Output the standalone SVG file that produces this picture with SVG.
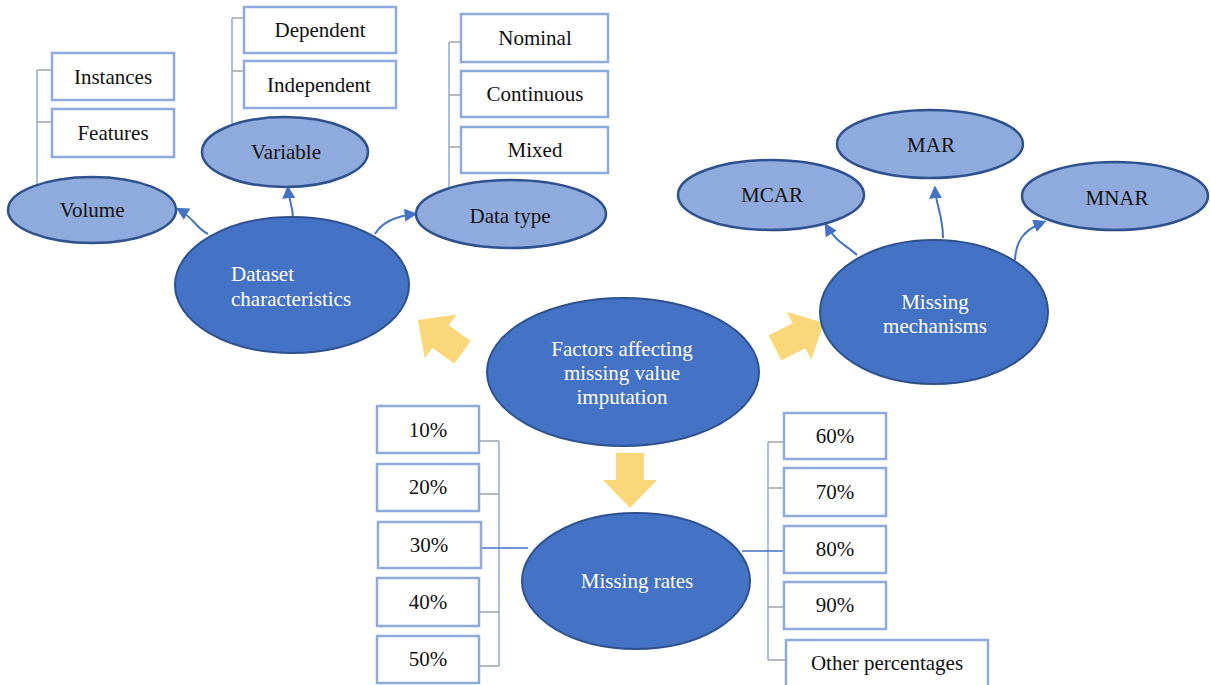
<svg xmlns="http://www.w3.org/2000/svg" width="1210" height="685" viewBox="0 0 1210 685">
<style>
.dark{fill:#4472C4;stroke:#2F528F;stroke-width:2}
.light{fill:#8FAADC;stroke:#2F528F;stroke-width:2.5}
.box{fill:#fff;stroke:#8FAADC;stroke-width:2.5}
text{font-family:"Liberation Serif","Times New Roman",serif;font-size:21px;text-anchor:middle}
.w{fill:#fff}
.k{fill:#111}
.br{fill:none;stroke:#8FAADC;stroke-width:1.5}
.tk{fill:none;stroke:#A0A4AC;stroke-width:1.5}
.ln{fill:none;stroke:#4472C4;stroke-width:1.5}
.ar{fill:none;stroke:#4472C4;stroke-width:2}
.ya{fill:#FAD46C;opacity:0.9}
</style>
<defs>
<marker id="ah" viewBox="0 0 10 10" refX="8" refY="5" markerWidth="6.5" markerHeight="6.5" orient="auto" markerUnits="strokeWidth">
<path d="M0,0 L10,5 L0,10 Z" fill="#4472C4"/>
</marker>
<path id="blk" d="M-14,-55 L14,-55 L14,-28 L27,-28 L0,0 L-27,-28 L-14,-28 Z"/>
</defs>

<g id="connectors">
<path class="br" d="M37,70 V185"/>
<path class="tk" d="M37,70 H52 M37,122 H52"/>
<path class="br" d="M232,18 V126"/>
<path class="tk" d="M232,18 H244 M232,71 H244"/>
<path class="br" d="M449,42 V188"/>
<path class="tk" d="M449,42 H461 M449,95 H461 M449,147 H461"/>
<path class="br" d="M499,441 V666"/>
<path class="tk" d="M479,441 H499 M479,494 H499 M479,612 H499 M479,666 H499"/>
<path class="ln" d="M481,548 H528"/>
<path class="br" d="M768,442 V660"/>
<path class="tk" d="M768,442 H784 M768,488 H784 M768,607 H784 M768,660 H786"/>
<path class="ln" d="M742,551 H784"/>
<path class="ar" marker-end="url(#ah)" d="M208,234 C196,228 194,218 178,209"/>
<path class="ar" marker-end="url(#ah)" d="M293,218 C293,206 289,202 288,188"/>
<path class="ar" marker-end="url(#ah)" d="M375,234 C382,222 396,216 415,214"/>
<path class="ar" marker-end="url(#ah)" d="M857,255 C846,245 836,242 826,225"/>
<path class="ar" marker-end="url(#ah)" d="M943,238 C943,215 936,206 935,188"/>
<path class="ar" marker-end="url(#ah)" d="M1015,260 C1016,240 1024,230 1044,222"/>
<use href="#blk" class="ya" transform="translate(418,320) rotate(126)"/>
<use href="#blk" class="ya" transform="translate(824,323) rotate(-117)"/>
<use href="#blk" class="ya" transform="translate(630,508)"/>
</g>

<g id="center"><ellipse class="dark" cx="623" cy="372" rx="136" ry="74"/>
<text class="w" x="622" y="356">Factors affecting</text><text class="w" x="622" y="380">missing value</text><text class="w" x="622" y="404">imputation</text></g>

<g id="dataset"><ellipse class="dark" cx="292" cy="285" rx="117" ry="68"/>
<text class="w" x="231" y="281" style="text-anchor:start">Dataset</text><text class="w" x="231" y="306" style="text-anchor:start">characteristics</text></g>

<g id="volume"><ellipse class="light" cx="92" cy="210" rx="84" ry="33"/><text class="k" x="92" y="217">Volume</text></g>
<g id="instances"><rect class="box" x="52" y="53" width="122" height="47"/><text class="k" x="113" y="84">Instances</text></g>
<g id="features"><rect class="box" x="52" y="109" width="122" height="48"/><text class="k" x="113" y="140">Features</text></g>

<g id="variable"><ellipse class="light" cx="285" cy="152" rx="83" ry="35"/><text class="k" x="286" y="159">Variable</text></g>
<g id="dependent"><rect class="box" x="244" y="7" width="152" height="46"/><text class="k" x="320" y="37">Dependent</text></g>
<g id="independent"><rect class="box" x="244" y="61" width="152" height="47"/><text class="k" x="319" y="92">Independent</text></g>

<g id="datatype"><ellipse class="light" cx="511" cy="214" rx="95" ry="34"/><text class="k" x="510" y="223">Data type</text></g>
<g id="nominal"><rect class="box" x="461" y="14" width="147" height="48"/><text class="k" x="535" y="45">Nominal</text></g>
<g id="continuous"><rect class="box" x="461" y="71" width="147" height="46"/><text class="k" x="535" y="101">Continuous</text></g>
<g id="mixed"><rect class="box" x="461" y="127" width="147" height="46"/><text class="k" x="535" y="157">Mixed</text></g>

<g id="mechanisms"><ellipse class="dark" cx="934" cy="312" rx="114" ry="72"/>
<text class="w" x="935" y="309">Missing</text><text class="w" x="935" y="333">mechanisms</text></g>
<g id="mcar"><ellipse class="light" cx="771" cy="195" rx="93" ry="35"/><text class="k" x="772" y="202">MCAR</text></g>
<g id="mar"><ellipse class="light" cx="930" cy="144" rx="93" ry="34"/><text class="k" x="931" y="152">MAR</text></g>
<g id="mnar"><ellipse class="light" cx="1115" cy="196" rx="93" ry="34"/><text class="k" x="1117" y="205">MNAR</text></g>

<g id="rates"><ellipse class="dark" cx="636" cy="581" rx="114" ry="68"/><text class="w" x="637" y="588">Missing rates</text></g>

<g id="p10"><rect class="box" x="377" y="406" width="102" height="47"/><text class="k" x="428" y="437">10%</text></g>
<g id="p20"><rect class="box" x="377" y="464" width="102" height="47"/><text class="k" x="428" y="494">20%</text></g>
<g id="p30"><rect class="box" x="378" y="522" width="103" height="46"/><text class="k" x="429" y="552">30%</text></g>
<g id="p40"><rect class="box" x="377" y="578" width="102" height="48"/><text class="k" x="428" y="609">40%</text></g>
<g id="p50"><rect class="box" x="377" y="636" width="102" height="47"/><text class="k" x="428" y="666">50%</text></g>

<g id="p60"><rect class="box" x="784" y="413" width="102" height="46"/><text class="k" x="835" y="443">60%</text></g>
<g id="p70"><rect class="box" x="784" y="468" width="102" height="48"/><text class="k" x="835" y="499">70%</text></g>
<g id="p80"><rect class="box" x="784" y="526" width="102" height="47"/><text class="k" x="835" y="556">80%</text></g>
<g id="p90"><rect class="box" x="784" y="582" width="102" height="47"/><text class="k" x="835" y="612">90%</text></g>
<g id="pother"><rect class="box" x="786" y="640" width="202" height="52"/><text class="k" x="887" y="670">Other percentages</text></g>
</svg>
